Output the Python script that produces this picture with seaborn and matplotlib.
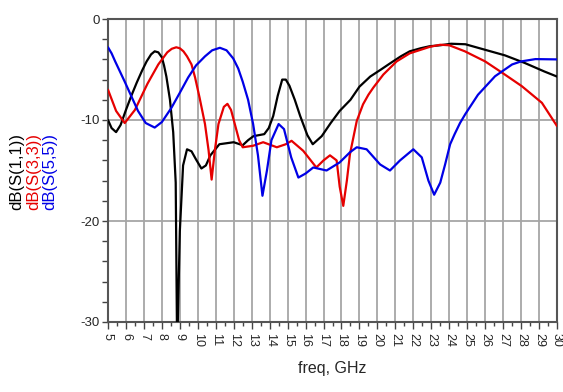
import numpy as np
import pandas as pd
import matplotlib
matplotlib.use("Agg")
import matplotlib.pyplot as plt
from matplotlib.ticker import MultipleLocator
import seaborn as sns

# --- DATA ---
freq_s11 = [5.0, 5.2, 5.45, 5.7, 6.0, 6.3, 6.6, 6.9, 7.15, 7.4, 7.6, 7.8, 8.0, 8.12, 8.25, 8.45,
            8.63, 8.77, 8.85, 9.0, 9.18, 9.4, 9.65, 9.9, 10.2, 10.45, 10.7, 11.2, 11.6, 12.0,
            12.5, 12.8, 13.1, 13.7, 13.95, 14.2, 14.45, 14.7, 14.9, 15.1, 15.4, 15.7, 16.1,
            16.4, 16.9, 17.4, 17.9, 18.5, 19.0, 19.6, 20.2, 20.7, 21.3, 21.8, 22.4, 22.9,
            23.5, 24.1, 24.9, 26.0, 27.1, 28.2, 29.3, 30.0]
s11 = [-10.0, -10.8, -11.2, -10.5, -9.0, -7.6, -6.3, -5.1, -4.2, -3.5, -3.2, -3.3, -3.8, -4.6,
       -5.7, -8.0, -11.2, -16.2, -33.0, -21.0, -14.5, -12.9, -13.1, -13.9, -14.8, -14.5,
       -13.5, -12.4, -12.3, -12.2, -12.5, -12.0, -11.6, -11.4, -10.8, -9.6, -7.6, -6.0,
       -6.0, -6.6, -8.0, -9.6, -11.5, -12.4, -11.6, -10.3, -9.1, -8.0, -6.7, -5.7, -5.0,
       -4.4, -3.7, -3.2, -2.9, -2.7, -2.6, -2.45, -2.5, -3.05, -3.6, -4.35, -5.2, -5.7]

freq_s33 = [5.0, 5.45, 5.93, 6.5, 7.2, 7.8, 8.3, 8.55, 8.8, 9.0, 9.2, 9.4, 9.65, 9.85, 10.1,
            10.4, 10.6, 10.77, 10.95, 11.15, 11.45, 11.65, 11.85, 12.06, 12.3, 12.5, 13.08,
            13.64, 14.4, 14.9, 15.22, 15.87, 16.6, 17.0, 17.36, 17.73, 17.9, 18.1, 18.3, 18.47,
            18.85, 19.2, 19.5, 19.77, 20.33, 21.07, 21.8, 22.93, 23.5, 24.0, 24.87, 26.0, 26.93,
            28.04, 29.16, 30.0]
s33 = [-7.0, -9.1, -10.3, -9.0, -6.4, -4.5, -3.3, -2.95, -2.8, -2.9, -3.2, -3.7, -4.5, -5.8,
       -7.8, -10.4, -13.0, -15.9, -13.0, -10.4, -8.7, -8.4, -9.0, -10.4, -12.0, -12.7, -12.55,
       -12.2, -12.7, -12.4, -12.06, -13.05, -14.7, -14.0, -13.5, -14.0, -16.6, -18.5, -16.0,
       -13.4, -10.1, -8.45, -7.5, -6.8, -5.5, -4.2, -3.4, -2.75, -2.55, -2.6, -3.2, -4.2,
       -5.3, -6.65, -8.3, -10.6]

freq_s55 = [5.0, 5.2, 5.4, 5.93, 6.67, 7.1, 7.6, 8.0, 8.53, 9.0, 9.46, 9.9, 10.4, 10.8, 11.23,
            11.6, 11.97, 12.25, 12.5, 12.8, 13.08, 13.35, 13.6, 13.85, 14.1, 14.5, 14.8, 15.2,
            15.6, 16.0, 16.43, 17.17, 17.9, 18.47, 18.85, 19.4, 20.15, 20.7, 21.26, 22.0,
            22.47, 22.84, 23.16, 23.5, 23.77, 24.05, 24.3, 24.6, 24.9, 25.6, 26.55, 27.5, 28.0,
            28.8, 30.0]
s55 = [-2.8, -3.4, -4.2, -6.2, -9.1, -10.3, -10.75, -10.2, -8.8, -7.3, -5.8, -4.6, -3.7,
       -3.1, -2.85, -3.1, -3.9, -4.9, -6.2, -8.0, -10.4, -13.5, -17.5, -15.0, -12.0, -10.4,
       -10.9, -13.7, -15.7, -15.3, -14.7, -15.0, -14.2, -13.2, -12.7, -12.9, -14.4, -15.0,
       -14.0, -12.9, -13.7, -16.0, -17.4, -16.2, -14.4, -12.4, -11.4, -10.3, -9.4, -7.5,
       -5.67, -4.5, -4.2, -3.97, -4.0]

series_names = ["dB(S(1,1))", "dB(S(3,3))", "dB(S(5,5))"]
series_colors = ["#000000", "#e60000", "#0000e6"]


def make_plot():
    sns.set_style("white")
    plt.rcParams["font.family"] = ["Liberation Sans", "DejaVu Sans"]
    plt.rcParams["axes.unicode_minus"] = False

    df = pd.concat([
        pd.DataFrame({"freq": freq_s11, "dB": s11, "trace": series_names[0]}),
        pd.DataFrame({"freq": freq_s33, "dB": s33, "trace": series_names[1]}),
        pd.DataFrame({"freq": freq_s55, "dB": s55, "trace": series_names[2]}),
    ], ignore_index=True)

    fig = plt.figure(figsize=(5.63, 3.92), dpi=100)
    ax = fig.add_axes([108 / 563, 1 - 322 / 392, (557 - 108) / 563, (322 - 19) / 392])

    # grid: vertical every GHz, horizontal at -10 / -20
    for f in range(6, 30):
        ax.axvline(f, color="#a6a6a6", lw=1.3, zorder=1)
    for d in (-10, -20):
        ax.axhline(d, color="#a6a6a6", lw=1.3, zorder=1)

    sns.lineplot(data=df, x="freq", y="dB", hue="trace", palette=series_colors,
                 hue_order=series_names, sort=False, estimator=None, legend=False,
                 lw=1.6, ax=ax, zorder=3)

    ax.set_xlim(5, 30)
    ax.set_ylim(-30, 0)
    ax.xaxis.set_major_locator(MultipleLocator(1))
    ax.xaxis.set_minor_locator(MultipleLocator(0.5))
    ax.yaxis.set_major_locator(MultipleLocator(10))
    ax.yaxis.set_minor_locator(MultipleLocator(2))
    ax.tick_params(axis="x", which="major", direction="out", length=5, width=1,
                   color="#444444", labelsize=9, labelrotation=-90, pad=3)
    ax.tick_params(axis="x", which="minor", direction="out", length=3, width=1, color="#444444")
    ax.tick_params(axis="y", which="both", direction="out", length=4, width=1,
                   color="#444444", labelsize=9.5, pad=2)
    ax.tick_params(bottom=True, left=True, which="both")
    for sp in ax.spines.values():
        sp.set_color("#555555")
        sp.set_linewidth(1.5)

    ax.set_xlabel("freq, GHz", fontsize=11.5, labelpad=10)
    ax.set_ylabel("")

    # stacked coloured y labels
    for i, (name, col) in enumerate(zip(series_names, series_colors)):
        fig.text((17 + 16.5 * i) / 563, 1 - 171 / 392, name, rotation=90, color=col,
                 fontsize=12, ha="center", va="center")

    fig.savefig("out.png", dpi=100)


if __name__ == "__main__":
    make_plot()
